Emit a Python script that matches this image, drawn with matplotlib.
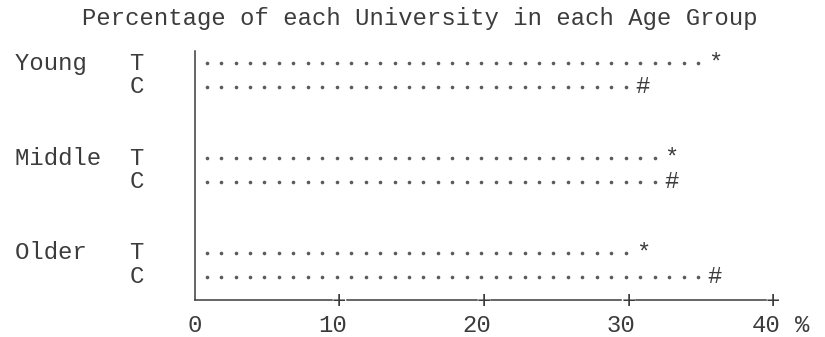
import numpy as np
import matplotlib
matplotlib.use("Agg")
import matplotlib.pyplot as plt

# Percentages per age group, T and C universities.
groups = ["Young", "Middle", "Older"]
pct_T = [36, 33, 31]
pct_C = [31, 33, 36]
ticks = [0, 10, 20, 30, 40]

ink = "#3c3c3c"
font = dict(family="Liberation Mono", fontsize=17.2, color=ink)

fig = plt.figure(figsize=(8.25, 3.37), dpi=100)
ax = fig.add_axes([0, 0, 1, 1])
ax.set_xlim(-13.48, 43.61)
ax.set_ylim(11.55, -2.67)
ax.axis("off")

# one printed line per university, a blank pair between groups
for i, g in enumerate(groups):
    yT = 4 * i
    yC = 4 * i + 1
    for y, v, sym in [(yT, pct_T[i], "*"), (yC, pct_C[i], "#")]:
        dots = 0.82 + np.arange(v - 1)
        ax.plot(dots, np.full(len(dots), y), "o", ms=2.6, color="#5a5a5a",
                mec="none")
        ax.text(v, y, sym, ha="center", va="center", **font)
    ax.text(-12.45, yT, g.ljust(8) + "T", ha="left", va="center", **font)
    ax.text(-12.45, yC, " " * 8 + "C", ha="left", va="center", **font)

# axes drawn like a line printer: vertical rule and a ruled baseline with + ticks
ax.plot([0, 0], [-0.5, 10], color=ink, lw=1.1)
for a, b in zip(ticks[:-1], ticks[1:]):
    start = a if a == 0 else a + 0.5
    ax.plot([start, b - 0.5], [10, 10], color=ink, lw=1.1)
for t in ticks[1:]:
    ax.text(t, 10.05, "+", ha="center", va="center", **font)
for t in ticks:
    ax.text(t + 0.5, 11.05, str(t), ha="right", va="center", **font)
ax.text(42.0, 11.05, "%", ha="center", va="center", **font)

ax.text(15.6, -1.9, "Percentage of each University in each Age Group",
        ha="center", va="center", **font)

fig.savefig("out.png", dpi=100, facecolor="white")
